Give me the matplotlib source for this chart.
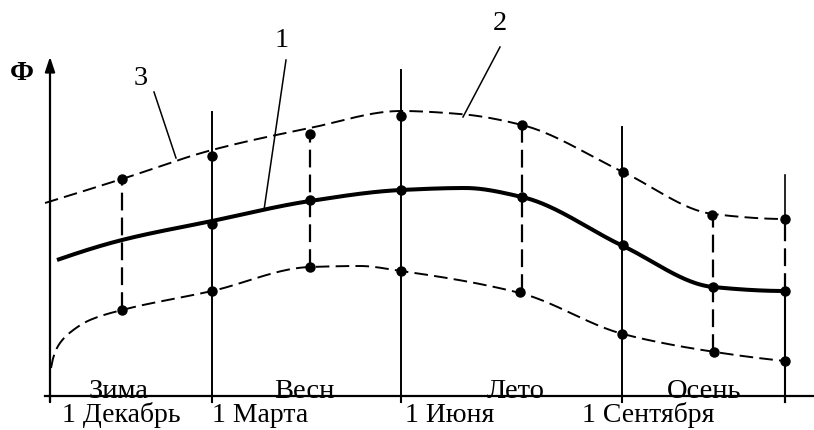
import numpy as np
import matplotlib
matplotlib.use("Agg")
import matplotlib.pyplot as plt

# ---- schematic data (x = position along the year, phi = value) ----
upper_x = [45, 122, 212, 310, 401, 460, 522, 623, 713, 785]
upper_phi = [197, 221, 250, 272, 289, 286, 275, 228, 186, 181]

mid_x = [57, 122, 212, 310, 401, 465, 522, 623, 713, 785]
mid_phi = [140, 160, 179, 199, 210, 212, 203, 154, 113, 109]

lower_x = [51, 54, 60, 72, 90, 122, 212, 310, 360, 401, 520, 623, 715, 785]
lower_phi = [32, 45, 57, 69, 80, 90, 109, 133, 134, 129, 107, 66, 48, 39]

upper_pts_x = [122, 212, 310, 401, 522, 623, 712, 785]
upper_pts_phi = [221, 244, 266, 284, 275, 228, 185, 181]
mid_pts_x = [212, 310, 401, 522, 623, 713, 785]
mid_pts_phi = [176, 200, 210, 203, 155, 113, 109]
lower_pts_x = [122, 212, 310, 401, 520, 622, 714, 785]
lower_pts_phi = [90, 109, 133, 129, 108, 66, 48, 39]

range_x = [122, 310, 522, 713, 785]
range_top = [221, 266, 275, 185, 181]
range_bot = [90, 133, 108, 48, 109]

month_x = [212, 401, 622]
month_top = [288, 330, 273]

tick_x = [50, 212, 401, 622, 785]
month_labels = ["1 Декабрь", "1 Марта", "1 Июня", "1 Сентября"]
month_label_x = [62, 212, 405, 582]
season_labels = ["Зима", "Весн", "Лето", "Осень"]
season_x = [119, 304, 516, 704]


def pchip(x, y, n=400):
    x = np.asarray(x, float)
    y = np.asarray(y, float)
    h = np.diff(x)
    d = np.diff(y) / h
    N = len(x)
    m = np.zeros(N)
    for k in range(1, N - 1):
        if d[k - 1] * d[k] <= 0:
            m[k] = 0.0
        else:
            w1 = 2 * h[k] + h[k - 1]
            w2 = h[k] + 2 * h[k - 1]
            m[k] = (w1 + w2) / (w1 / d[k - 1] + w2 / d[k])

    def end(h0, h1, d0, d1):
        mm = ((2 * h0 + h1) * d0 - h0 * d1) / (h0 + h1)
        if np.sign(mm) != np.sign(d0):
            mm = 0.0
        elif np.sign(d0) != np.sign(d1) and abs(mm) > 3 * abs(d0):
            mm = 3 * d0
        return mm

    m[0] = end(h[0], h[1], d[0], d[1])
    m[-1] = end(h[-1], h[-2], d[-1], d[-2])
    xn = np.linspace(x[0], x[-1], n)
    idx = np.clip(np.searchsorted(x, xn) - 1, 0, N - 2)
    t = (xn - x[idx]) / h[idx]
    h00 = 2 * t**3 - 3 * t**2 + 1
    h10 = t**3 - 2 * t**2 + t
    h01 = -2 * t**3 + 3 * t**2
    h11 = t**3 - t**2
    yn = (h00 * y[idx] + h10 * h[idx] * m[idx] + h01 * y[idx + 1]
          + h11 * h[idx] * m[idx + 1])
    return xn, yn


fig = plt.figure(figsize=(8.14, 4.30), dpi=100)
ax = fig.add_axes([0, 0, 1, 1])
ax.set_xlim(0, 814)
ax.set_ylim(-30, 400)
ax.axis("off")

FONT = "Liberation Serif"
k = "black"

# axes
ax.plot([50, 50], [-2, 335], color=k, lw=1.6, solid_capstyle="butt", zorder=5)
ax.annotate("", xy=(50, 346), xytext=(50, 330),
            arrowprops=dict(arrowstyle="-|>,head_length=0.9,head_width=0.3",
                            color=k, lw=1.5), zorder=5)
ax.plot([45, 814], [4, 4], color=k, lw=1.6, zorder=5)
for tx in tick_x:
    ax.plot([tx, tx], [4, -2], color=k, lw=1.5, zorder=5)

# solid month lines
for x, top in zip(month_x, month_top):
    ax.plot([x, x], [4, top], color=k, lw=1.4, zorder=3)
ax.plot([785, 785], [-2, 109], color=k, lw=1.5, zorder=3)
ax.plot([785, 785], [181, 225], color=k, lw=1.2, zorder=3)

# dashed range lines
for x, t, b in zip(range_x, range_top, range_bot):
    ax.plot([x, x], [b, t], color=k, lw=1.6, dashes=(8, 3.2), zorder=3)

# curves
ux, uy = pchip(upper_x, upper_phi)
ax.plot(ux, uy, color=k, lw=1.4, dashes=(7, 3.2), zorder=4)
mx, my = pchip(mid_x, mid_phi)
ax.plot(mx, my, color=k, lw=2.9, solid_capstyle="butt", zorder=4)
lx, ly = pchip(lower_x, lower_phi)
ax.plot(lx, ly, color=k, lw=1.4, dashes=(7, 3.2), zorder=4)

# markers
for xs, ys in [(upper_pts_x, upper_pts_phi), (mid_pts_x, mid_pts_phi),
               (lower_pts_x, lower_pts_phi)]:
    ax.plot(xs, ys, "o", color=k, ms=6.5, zorder=6)

# leaders and numbers
ax.plot([154, 176], [308, 242], color=k, lw=1.1)
ax.plot([286, 264], [340, 190], color=k, lw=1.1)
ax.plot([500, 463], [353, 283], color=k, lw=1.1)
ax.text(141, 315, "3", fontsize=20.5, family=FONT, ha="center", va="baseline")
ax.text(282, 353, "1", fontsize=20.5, family=FONT, ha="center", va="baseline")
ax.text(500, 370, "2", fontsize=20.5, family=FONT, ha="center", va="baseline")
ax.text(22, 327, "Ф", fontsize=20, family=FONT, fontweight="bold",
        ha="center", va="center")

# season labels sitting on the axis
for s, x in zip(season_labels, season_x):
    ax.text(x, 2, s, fontsize=20.5, family=FONT, ha="center", va="baseline", zorder=2)

# month labels under the axis
for s, x in zip(month_labels, month_label_x):
    ax.text(x, -22, s, fontsize=20, family=FONT, ha="left", va="baseline")

fig.savefig("out.png", dpi=100)
